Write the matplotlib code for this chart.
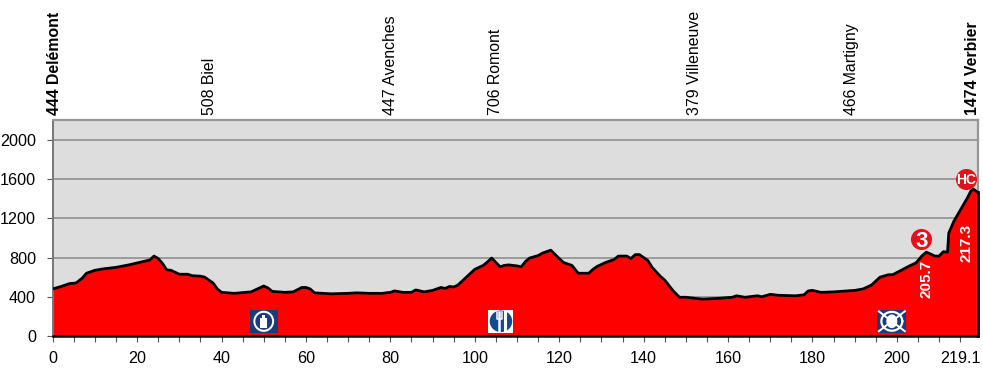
import numpy as np
import matplotlib.pyplot as plt
from matplotlib.patches import Rectangle

plt.rcParams['font.family'] = ['Liberation Sans', 'DejaVu Sans']

# Profile
km = [0, 2, 4, 5.5, 7, 8, 10, 12, 15, 18, 20, 22, 23, 24, 25, 26, 27, 28, 29, 30, 32, 33, 35, 36, 38, 39,
      40, 43, 47, 49, 50, 51, 52, 55, 57, 59, 60, 61, 62, 64, 66, 70, 72, 75, 78, 80, 81, 83, 85, 86, 88, 90,
      92, 93, 94, 95, 96, 98, 100, 102, 103, 104, 105, 106, 107, 108, 110, 111, 112, 113, 115, 116, 118,
      120, 121, 123, 124.5, 127, 128, 129, 131, 133, 134, 136, 137, 138, 139, 141, 142, 144, 145, 147, 148.5,
      150, 154, 158, 161, 162, 164, 167, 168, 170, 172, 176, 178, 179, 180, 182, 185, 190, 192, 194, 196,
      198, 199, 201, 203, 204.5, 206, 207, 209, 210, 211, 212, 212.3, 213.5, 216.7, 217.5, 218.1, 219.1]
elevation = [480, 505, 535, 540, 590, 640, 670, 685, 700, 725, 745, 765, 775, 815, 790, 740, 675, 670, 650, 630,
             630, 615, 610, 600, 540, 480, 445, 435, 450, 490, 510, 490, 455, 445, 450, 495, 495, 480, 440, 435,
             430, 435, 440, 435, 435, 445, 460, 445, 445, 470, 450, 465, 495, 485, 505, 500, 520, 600, 680, 720,
             755, 795, 750, 705, 720, 725, 715, 705, 760, 795, 820, 845, 875, 790, 750, 720, 640, 640, 680, 710,
             750, 780, 815, 815, 790, 830, 830, 770, 700, 607, 570, 460, 395, 395, 375, 385, 395, 410, 395, 410,
             400, 425, 415, 410, 420, 460, 465, 445, 450, 465, 480, 520, 600, 625, 625, 670, 715, 745, 820, 855,
             815, 815, 860, 855, 1050, 1170, 1408, 1476, 1500, 1466]

place_names = ['444 Delémont', '508 Biel', '447 Avenches', '706 Romont', '379 Villeneuve', '466 Martigny', '1474 Verbier']
place_km = [0.4, 37.1, 80, 104.9, 152.1, 189.3, 217.9]
place_bold = [True, False, False, False, False, False, True]

y_ticks = [0, 400, 800, 1200, 1600, 2000]
x_ticks = np.arange(0, 216, 5)
x_labels = {0: '0', 20: '20', 40: '40', 60: '60', 80: '80', 100: '100', 120: '120',
            140: '140', 160: '160', 180: '180', 200: '200', 215: '219.1'}

climb_labels = ['3', 'HC']
climb_km = [205.8, 216.4]
climb_elev = [992, 1606]
climb_sizes = [16, 10]

split_labels = ['205.7', '217.3']
split_km = [207, 216.4]
split_elev = [583, 950]

icon_km = [50, 106.2, 198.8]
navy = '#1b3b7c'

fig = plt.figure(figsize=(9.83, 3.74), dpi=100)
ax = fig.add_axes([52.7 / 983, 38 / 374, 924.8 / 983, 215.7 / 374])
ax.set_facecolor('#dddddd')
ax.set_xlim(0, 219.1)
ax.set_ylim(0, 2200)

ax.grid(axis='y', color='#8f8f8f', linewidth=1.2, zorder=1)
ax.set_axisbelow(True)
ax.fill_between(km, elevation, 0, color='#ff0000', linewidth=0, zorder=2)
ax.plot(km, elevation, color='black', linewidth=2.0, zorder=3, solid_joinstyle='round')
ax.plot([km[-1], km[-1]], [0, elevation[-1]], color='black', linewidth=2, zorder=3, clip_on=False)

ax.set_yticks(y_ticks)
ax.set_xticks(x_ticks)
ax.set_xticklabels([x_labels.get(int(t), '') for t in x_ticks])
ax.tick_params(axis='y', labelsize=11.6, length=4, width=0.8, color='#555555', pad=8)
ax.tick_params(axis='x', labelsize=11.6, length=4, width=0.8, color='#555555', pad=7)

for side in ['top', 'right']:
    ax.spines[side].set_color('#969696')
    ax.spines[side].set_linewidth(1.6)
ax.spines['left'].set_color('#777777')
ax.spines['left'].set_linewidth(1.4)
ax.spines['bottom'].set_color('black')
ax.spines['bottom'].set_linewidth(1.8)
ax.spines['bottom'].set_zorder(4)

# Place names above the plot
for name, x, bold in zip(place_names, place_km, place_bold):
    ax.text(x, 2250, name, rotation=90, ha='center', va='bottom', fontsize=11.4,
            fontweight='bold' if bold else 'normal', color='black', clip_on=False)

# Climb markers
for label, x, y, size in zip(climb_labels, climb_km, climb_elev, climb_sizes):
    ax.scatter([x], [y], s=230, color='#e6101c', linewidth=0, zorder=5)
    ax.text(x, y, label, color='white', fontweight='bold', fontsize=size, ha='center', va='center_baseline', zorder=6)

for label, x, y in zip(split_labels, split_km, split_elev):
    ax.text(x, y, label, color='white', fontweight='bold', fontsize=11, rotation=90,
            ha='center', va='center', zorder=6)


def icon_axes(x, width_px, background):
    # small axes at a data position, drawn in a -1..1 box
    w = width_px / 924.8 * 219.1
    sub = ax.inset_axes([x - w / 2, 30, w, 240], transform=ax.transData, zorder=7)
    sub.set_xlim(-1, 1)
    sub.set_ylim(-1, 1)
    sub.set_xticks([])
    sub.set_yticks([])
    for s in sub.spines.values():
        s.set_visible(False)
    sub.set_facecolor(background)
    return sub


t = np.linspace(0, 2 * np.pi, 80)

# Feed zone bottle
sub = icon_axes(icon_km[0], 28, navy)
sub.fill(0.74 * np.cos(t), 0.9 * np.sin(t), color='white', linewidth=0)
sub.fill(0.6 * np.cos(t), 0.72 * np.sin(t), color=navy, linewidth=0)
sub.add_patch(Rectangle((-0.24, -0.58), 0.48, 0.82, color='white', linewidth=0))
sub.add_patch(Rectangle((-0.11, 0.2), 0.22, 0.36, color='white', linewidth=0))

# Meal fork and knife
sub = icon_axes(icon_km[1], 25, 'white')
sub.fill(0.9 * np.cos(t), 0.92 * np.sin(t), color='#154a8e', linewidth=0)
sub.plot([-0.12, -0.12], [-0.85, 0.75], color='white', linewidth=1.8)
sub.plot([0.3, 0.3], [-0.85, 0.8], color='white', linewidth=2.2)
sub.plot([-0.3, -0.3, 0.06, 0.06], [0.78, 0.2, 0.2, 0.78], color='white', linewidth=1.1)

# Last climb marker with crossed bars
sub = icon_axes(icon_km[2], 29, navy)
sub.plot(0.72 * np.cos(t), 0.8 * np.sin(t), color='white', linewidth=1.6)
sub.plot([-0.9, 0.9], [-0.85, 0.85], color='white', linewidth=1.4)
sub.plot([-0.9, 0.9], [0.85, -0.85], color='white', linewidth=1.4)
sub.fill(0.38 * np.cos(t), 0.58 * np.sin(t), color='white', linewidth=0)

fig.savefig('out.png', dpi=100)
